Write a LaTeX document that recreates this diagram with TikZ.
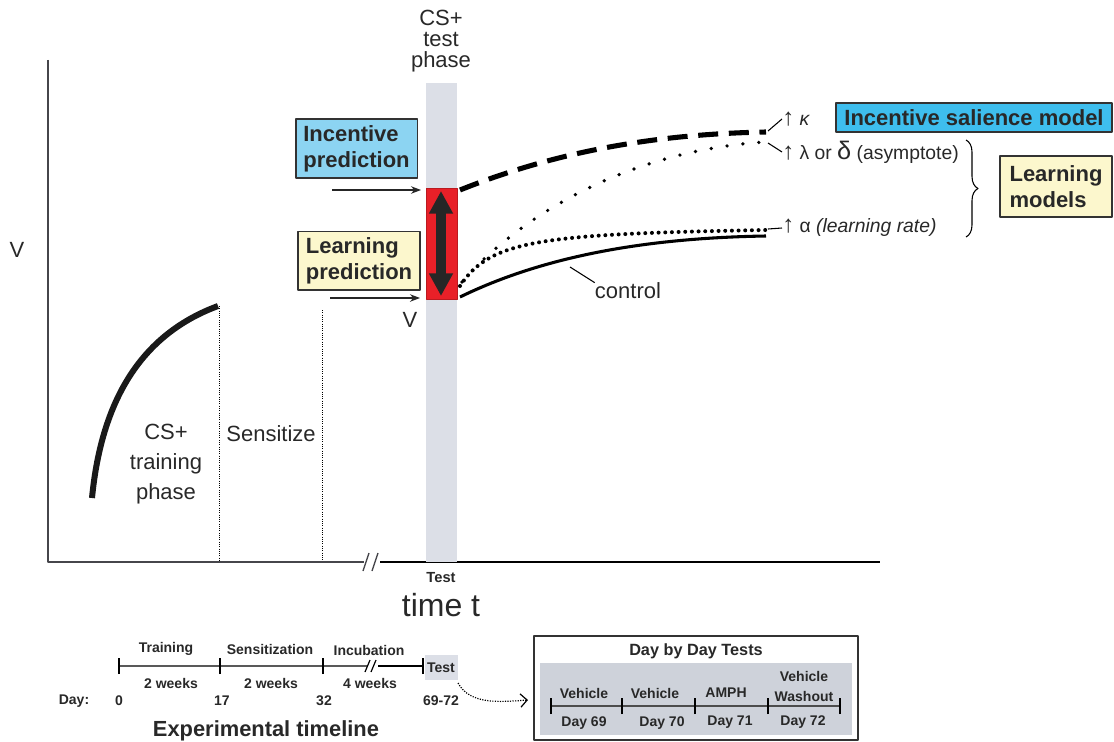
\documentclass[tikz,border=0pt]{standalone}
\usepackage{fontspec}
\setmainfont{Liberation Sans}
\usetikzlibrary{arrows.meta,decorations.pathreplacing}
\definecolor{bandgray}{RGB}{220,223,231}
\definecolor{barred}{RGB}{232,32,40}
\definecolor{skyblue}{RGB}{140,212,242}
\definecolor{cyanbox}{RGB}{62,190,238}
\definecolor{paleyellow}{RGB}{252,247,205}
\definecolor{axisgray}{RGB}{70,70,75}
\definecolor{boxgray}{RGB}{206,210,218}
\definecolor{txtgray}{RGB}{40,40,40}
\newcommand{\uparr}{{\fontsize{18}{18}\selectfont ↑}}
\begin{document}
\begin{tikzpicture}[x=0.75pt, y=-0.75pt, line join=round, >=Stealth,
	big/.style={font=\fontsize{16.5}{21}\selectfont, text=txtgray, inner sep=0pt, align=center},
	note/.style={font=\fontsize{14.5}{16}\selectfont, text=txtgray, inner sep=0pt, anchor=west},
	small/.style={font=\bfseries\fontsize{10.5}{12}\selectfont, text=txtgray, inner sep=0pt},
	modelbox/.style={draw=black!80, line width=1pt, align=left, inner sep=0pt, font=\bfseries\fontsize{16.5}{19.5}\selectfont, text=txtgray},
	axis/.style={axisgray, line width=1.3pt},
	feed/.style={->, line width=1pt, black!85}]
	\useasboundingbox (0,0) rectangle (1114,742);
	% axes
	\coordinate (Ytop) at (48,60);
	\coordinate (O) at (48,562);
	\coordinate (Xbrk) at (364,562);
	\coordinate (Xcont) at (380,562);
	\coordinate (Xend) at (880,562);
	\draw[axis] (Ytop)--(O)--(Xbrk);
	\draw[line width=1pt, black] (Xcont)--(Xend);
	\draw[axis, line width=1pt] (363,571)--(369,553) (372,571)--(378,553);
	\node[big] (Vaxis) at (17,250) {V};
	% test phase band
	\fill[bandgray] (426,83) rectangle (457,562);
	\draw[fill=barred, draw=barred!80!black, line width=0.4pt] (426,188) rectangle (457,299);
	\coordinate (Atop) at (441,191);
	\coordinate (Abot) at (441,296);
	\draw[line width=7pt, black!85, {Triangle[width=17pt,length=17pt]}-{Triangle[width=17pt,length=17pt]}] (Atop)--(Abot);
	\node[big, font=\fontsize{16.5}{15.75}\selectfont] (testphase) at (441,41) {CS+\\test\\phase};
	% training phase
	\coordinate (T0) at (92,498);
	\coordinate (T1) at (218,306);
	\draw[line width=4.5pt, black!90] (T0) .. controls (102,395) and (145,333) .. (T1);
	\draw[densely dotted, line width=0.7pt] (219,306)--(219,560) (322,310)--(322,560);
	\node[big, font=\fontsize{16.5}{22.5}\selectfont] (training) at (166,464) {CS+\\training\\phase};
	\node[big] (sensitize) at (271,434) {Sensitize};
	% prediction boxes
	\node[modelbox, fill=skyblue, minimum width=91pt, minimum height=44pt] (incpred) at (356.5,148.5) {Incentive\\prediction};
	\node[modelbox, fill=paleyellow, minimum width=91.5pt, minimum height=44pt] (learnpred) at (359,260.5) {Learning\\prediction};
	\coordinate (incFrom) at (332,190);
	\coordinate (incTo) at (421,190);
	\coordinate (lrnFrom) at (330,298);
	\coordinate (lrnTo) at (420,298);
	\draw[feed] (incFrom)--(incTo);
	\draw[feed] (lrnFrom)--(lrnTo);
	\node[big] (Vtest) at (410,320) {V};
	% test curves
	\coordinate (Ks) at (460,190);
	\coordinate (Ke) at (766,132);
	\coordinate (Ls) at (462,282);
	\coordinate (Le) at (766,142);
	\coordinate (As) at (460,286);
	\coordinate (Ae) at (766,230);
	\coordinate (Cs) at (460,297);
	\coordinate (Ce) at (766,236);
	\draw[line width=3.8pt, dash pattern=on 15pt off 8pt] (Ks) .. controls (560,150) and (660,134) .. (Ke);
	\draw[line width=2.8pt, line cap=round, dash pattern=on 0pt off 12pt] (Ls) .. controls (520,215) and (630,150) .. (Le);
	\draw[line width=3pt, line cap=round, dash pattern=on 0pt off 5pt] (As) .. controls (490,240) and (540,234) .. (Ae);
	\draw[line width=2.3pt] (Cs) .. controls (540,258) and (640,238) .. (Ce);
	\node[big] (control) at (628,291) {control};
	\draw[line width=0.8pt] (570,267)--(control.north west);
	% parameter labels
	\node[note] (kappa) at (782,119) {\uparr\ \textit{κ}};
	\node[note] (lambda) at (782,152) {\uparr\ λ or {\fontsize{19}{19}\selectfont δ} (asymptote)};
	\node[note] (alpha) at (782,228) {\uparr\ α \textit{(learning rate)}};
	\draw[line width=0.8pt] (768,131)--(kappa.west);
	\draw[line width=0.8pt] (768,143)--(lambda.west);
	\draw[line width=0.8pt] (768,229)--(alpha.west);
	\node[modelbox, fill=cyanbox, minimum width=207pt, minimum height=21.75pt, align=center] (salience) at (974,117.5) {Incentive salience model};
	\node[modelbox, fill=paleyellow, minimum width=84pt, minimum height=45.75pt] (learnmodels) at (1056,186.5) {Learning\\models};
	\draw[line width=0.8pt, decorate, decoration={brace, amplitude=9pt}] (966,140)--(966,237);
	% x label
	\node[small, font=\bfseries\fontsize{11}{12}\selectfont] (testx) at (441,578) {Test};
	\node[big, font=\fontsize{24}{26}\selectfont] (timet) at (441,605) {time t};
	% experimental timeline
	\coordinate (d0) at (119,666);
	\coordinate (d17) at (220,666);
	\coordinate (d32) at (323,666);
	\coordinate (dbrk) at (367,666);
	\coordinate (dres) at (378,666);
	\coordinate (dtest) at (423,666);
	\draw[line width=1.1pt, gray!70!black] (d0)--(dbrk);
	\draw[line width=0.9pt, black] (dres)--(dtest);
	\draw[line width=0.9pt] (365,672)--(370,660) (371,672)--(376,660);
	\foreach \p in {d0,d17,d32,dtest}
		\draw[line width=0.9pt] ([yshift=-6pt]\p)--([yshift=6pt]\p);
	\fill[bandgray] (425,655) rectangle (458,680);
	\node[small] (ttest) at (441,668) {Test};
	\node[small] (ltrain) at (166,649) {Training};
	\node[small] (lsens) at (270,649) {Sensitization};
	\node[small] (lincub) at (369,650) {Incubation};
	\node[small] (w1) at (171,683) {2 weeks};
	\node[small] (w2) at (271,683) {2 weeks};
	\node[small] (w3) at (370,683) {4 weeks};
	\node[small] (dayl) at (74,701) {Day:};
	\node[small] (n0) at (119,701) {0};
	\node[small] (n17) at (222,701) {17};
	\node[small] (n32) at (324,701) {32};
	\node[small] (n69) at (441,701) {69-72};
	\node[big, font=\bfseries\fontsize{16.4}{18}\selectfont] (exptl) at (266,731) {Experimental timeline};
	% day by day tests
	\draw[line width=1pt, black!80, fill=white] (534,636) rectangle (858,740);
	\fill[boxgray] (540,663) rectangle (852,735);
	\node[small, font=\bfseries\fontsize{12.2}{14}\selectfont] (daytitle) at (696,651) {Day by Day Tests};
	\coordinate (e69) at (551,706);
	\coordinate (e70) at (622,706);
	\coordinate (e71) at (695,706);
	\coordinate (e72) at (768,706);
	\coordinate (eend) at (840,706);
	\draw[line width=1.1pt, gray!60!black] (e69)--(eend);
	\foreach \p in {e69,e70,e71,e72,eend}
		\draw[line width=0.9pt] ([yshift=-6pt]\p)--([yshift=6pt]\p);
	\node[small] (v1) at (584,693) {Vehicle};
	\node[small] (v2) at (655,693) {Vehicle};
	\node[small] (amph) at (726,693) {AMPH};
	\node[small, align=center, font=\bfseries\fontsize{10.5}{15}\selectfont] (wash) at (804,686) {Vehicle\\Washout};
	\node[small] (day69) at (584,723) {Day 69};
	\node[small] (day70) at (662,723) {Day 70};
	\node[small] (day71) at (730,722) {Day 71};
	\node[small] (day72) at (803,722) {Day 72};
	\coordinate (linkTo) at (528,700);
	\draw[densely dotted, line width=0.9pt, -{Straight Barb[length=5pt]}] (458,683) .. controls (470,705) and (500,702) .. (linkTo);
\end{tikzpicture}
\end{document}
